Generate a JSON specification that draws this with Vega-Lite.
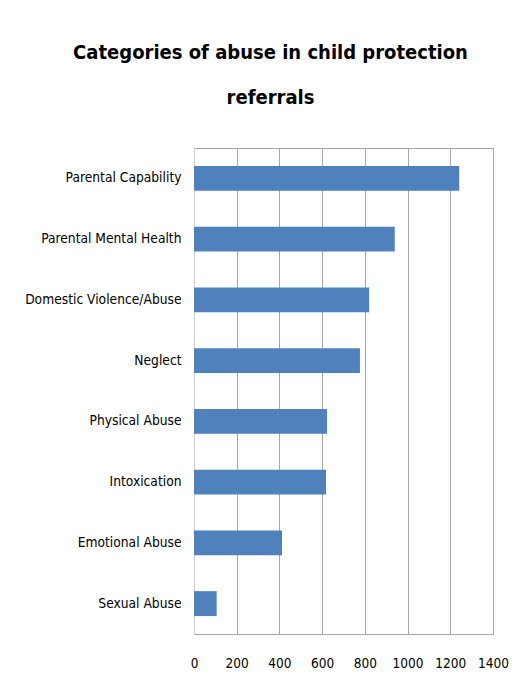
{
  "$schema": "https://vega.github.io/schema/vega-lite/v6.json",
  "autosize": "none",
  "width": 299,
  "height": 486,
  "padding": {"left": 194, "top": 148, "right": 23, "bottom": 56},
  "background": "white",
  "title": {
    "text": ["Categories of abuse in child protection", "referrals"],
    "font": "DejaVu Sans Condensed",
    "fontSize": 20,
    "fontWeight": "bold",
    "color": "#000000",
    "anchor": "middle",
    "frame": "group",
    "dx": -73,
    "offset": 40,
    "lineHeight": 45
  },
  "data": {
    "values": [
      {"category": "Parental Capability", "count": 1242},
      {"category": "Parental Mental Health", "count": 940},
      {"category": "Domestic Violence/Abuse", "count": 820},
      {"category": "Neglect", "count": 777},
      {"category": "Physical Abuse", "count": 623},
      {"category": "Intoxication", "count": 618},
      {"category": "Emotional Abuse", "count": 412},
      {"category": "Sexual Abuse", "count": 106}
    ]
  },
  "mark": {"type": "bar", "color": "#4f81bd"},
  "encoding": {
    "y": {
      "field": "category",
      "type": "nominal",
      "sort": null,
      "title": null,
      "scale": {"paddingInner": 0.59, "paddingOuter": 0.295},
      "axis": {
        "ticks": false,
        "domain": true,
        "domainColor": "#d0d0d0",
        "labelFont": "DejaVu Sans Condensed",
        "labelFontSize": 13.7,
        "labelColor": "#000000",
        "labelPadding": 13,
        "labelLimit": 300
      }
    },
    "x": {
      "field": "count",
      "type": "quantitative",
      "title": null,
      "scale": {"domain": [0, 1400], "nice": false},
      "axis": {
        "values": [0, 200, 400, 600, 800, 1000, 1200, 1400],
        "format": "d",
        "ticks": false,
        "domain": false,
        "grid": true,
        "gridColor": "#a6a6a6",
        "gridOpacity": 1,
        "labelFont": "DejaVu Sans Condensed",
        "labelFontSize": 13.5,
        "labelColor": "#000000",
        "labelPadding": 22,
        "labelFlush": false
      }
    }
  },
  "config": {
    "view": {"stroke": "#a6a6a6", "strokeWidth": 1}
  }
}
